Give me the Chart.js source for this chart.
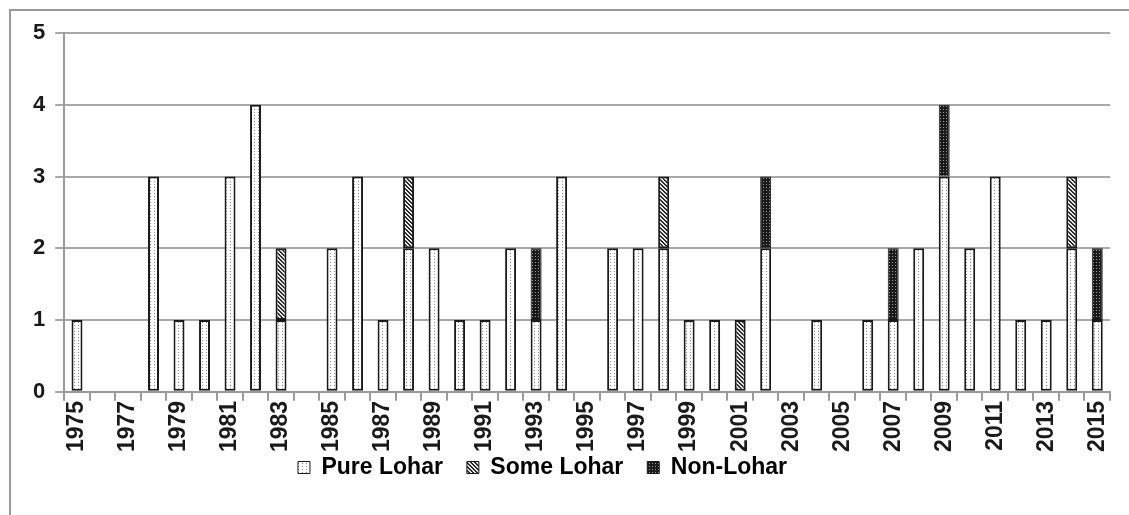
<!DOCTYPE html>
<html>
<head>
<meta charset="utf-8">
<script src="https://cdn.jsdelivr.net/npm/chart.js@4.4.1/dist/chart.umd.min.js"></script>
<style>
  html, body { margin: 0; padding: 0; background: #fff; }
  #wrap { position: relative; width: 1129px; height: 515px; overflow: hidden; }
  #frame { position: absolute; left: 9px; top: 9px; width: 1300px; height: 700px; border: 2px solid #9a9a9a; box-sizing: border-box; }
  #chart { position: absolute; left: 0; top: 0; }
</style>
</head>
<body>
<div id="wrap">
  <div id="frame"></div>
  <canvas id="chart" width="1129" height="515"></canvas>
</div>
<script>
const years = [];
for (let y = 1975; y <= 2015; y++) years.push(String(y));

// 1975 ... 2015
const pureLohar = [1,0,0,3,1,1,3,4,1,0, 2,3,1,2,2,1,1,2,1,3, 0,2,2,2,1,1,0,2,0,1, 0,1,1,2,3,2,3,1,1,2, 1];
const someLohar = [0,0,0,0,0,0,0,0,1,0, 0,0,0,1,0,0,0,0,0,0, 0,0,0,1,0,0,1,0,0,0, 0,0,0,0,0,0,0,0,0,1, 0];
const nonLohar  = [0,0,0,0,0,0,0,0,0,0, 0,0,0,0,0,0,0,0,1,0, 0,0,0,0,0,0,0,1,0,0, 0,0,1,0,1,0,0,0,0,0, 1];

const yTicks = [0, 1, 2, 3, 4, 5];

function makePattern(w, h, draw) {
  const c = document.createElement('canvas');
  c.width = w; c.height = h;
  const g = c.getContext('2d');
  draw(g, w, h);
  return g.createPattern(c, 'repeat');
}

const purePattern = makePattern(4, 3, (g, w, h) => {
  g.fillStyle = '#fff'; g.fillRect(0, 0, w, h);
  g.fillStyle = '#8a8a8a'; g.fillRect(2, 1, 1, 1);
});
const somePattern = makePattern(4, 4, (g, w, h) => {
  g.fillStyle = '#e8e8e8'; g.fillRect(0, 0, w, h);
  g.fillStyle = '#2a2a2a';
  for (let i = 0; i < 4; i++) { g.fillRect(i, i, 1, 1); g.fillRect((i + 1) % 4, i, 1, 1); }
});
const nonPattern = makePattern(3, 3, (g, w, h) => {
  g.fillStyle = '#1a1a1a'; g.fillRect(0, 0, w, h);
  g.fillStyle = '#9a9a9a'; g.fillRect(1, 1, 1, 1);
});

const FONT = "'Liberation Sans', Arial, sans-serif";

// legend padding is also the gap between items; keep the wide gap but pull the row up
const LEGEND_PAD = 24;
const LEGEND_SHIFT_X = -24;
const tightLegend = {
  id: 'tightLegend',
  beforeUpdate(chart) {
    const lg = chart.legend;
    if (!lg || lg._tight) return;
    lg._tight = true;
    const fit = lg.fit, draw = lg.draw;
    const dy = LEGEND_PAD - 4;
    lg.fit = function () { fit.call(this); this.height -= dy; };
    lg.draw = function () {
      const { top, left, right } = this;
      this.top -= dy;
      this.left += LEGEND_SHIFT_X;
      this.right += LEGEND_SHIFT_X;
      draw.call(this);
      this.top = top; this.left = left; this.right = right;
    };
  },
};

const barOpts = {
  borderColor: '#1a1a1a',
  borderWidth: 2,
  borderSkipped: false,
  barPercentage: 0.43,
  categoryPercentage: 1.0,
};

new Chart(document.getElementById('chart'), {
  type: 'bar',
  data: {
    labels: years,
    datasets: [
      { label: 'Pure Lohar', data: pureLohar, backgroundColor: purePattern, ...barOpts },
      { label: 'Some Lohar', data: someLohar, backgroundColor: somePattern, ...barOpts },
      { label: 'Non-Lohar', data: nonLohar, backgroundColor: nonPattern, ...barOpts, borderWidth: 1 },
    ],
  },
  plugins: [tightLegend],
  options: {
    responsive: false,
    animation: false,
    devicePixelRatio: 1,
    layout: { padding: { left: 23, right: 19, top: 33, bottom: 26 } },
    plugins: {
      tooltip: { enabled: false },
      legend: {
        position: 'bottom',
        labels: {
          color: '#1a1a1a',
          font: { family: FONT, size: 23, weight: 'bold' },
          boxWidth: 12,
          boxHeight: 12,
          padding: LEGEND_PAD,
          generateLabels: chart => chart.data.datasets.map((ds, i) => ({
            text: ds.label,
            fillStyle: ds.backgroundColor,
            strokeStyle: '#1a1a1a',
            lineWidth: 1,
            datasetIndex: i,
          })),
        },
      },
    },
    scales: {
      x: {
        stacked: true,
        offset: true,
        grid: { display: true, drawOnChartArea: false, offset: true, color: '#9a9a9a', lineWidth: 2, tickLength: 9 },
        border: { color: '#9a9a9a', width: 2 },
        ticks: {
          autoSkip: false,
          maxRotation: 90,
          minRotation: 90,
          padding: 0,
          color: '#1a1a1a',
          font: { family: FONT, size: 23, weight: 'bold' },
          callback: (v, i) => (i % 2 === 0 ? years[i] : ''),
        },
      },
      y: {
        stacked: true,
        min: yTicks[0],
        max: yTicks[yTicks.length - 1],
        afterBuildTicks: axis => { axis.ticks = yTicks.map(v => ({ value: v })); },
        grid: { color: '#a8a8a8', lineWidth: 2, tickLength: 9 },
        border: { color: '#9a9a9a', width: 2 },
        ticks: {
          padding: 10,
          color: '#1a1a1a',
          font: { family: FONT, size: 22, weight: 'bold' },
        },
      },
    },
  },
});
</script>
</body>
</html>
